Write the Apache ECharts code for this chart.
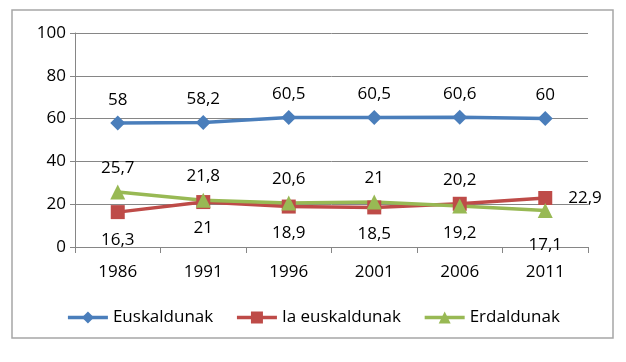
<!DOCTYPE html>
<html><head><meta charset="utf-8">
<script src="https://cdn.jsdelivr.net/npm/echarts@6/dist/echarts.min.js"></script>
<style>html,body{margin:0;padding:0;background:#fff}#c{width:626px;height:362px}</style>
</head><body><div id="c"></div>
<script>
var categories = ['1986','1991','1996','2001','2006','2011'];
var euskaldunak = [58, 58.2, 60.5, 60.5, 60.6, 60];
var iaEuskaldunak = [16.3, 21, 18.9, 18.5, 20.2, 22.9];
var erdaldunak = [25.7, 21.8, 20.6, 21, 19.2, 17.1];
var yTicks = [0, 20, 40, 60, 80, 100];

var FONT = 'Open Sans';
var iaPos = ['bottom','bottom','bottom','bottom','top','right'];
var erPos = ['top','top','top','top','bottom','bottom'];
function fmt(v){ return String(v).replace('.', ','); }
function items(arr, pos, extra){
  return arr.map(function(v,i){
    var p = pos[i];
    var d = p==='top'?8:(p==='bottom'?11:16);
    var lab = {position:p, distance: d + (extra[i]||0)};
    return {value:v, label:lab};
  });
}
var chart = echarts.init(document.getElementById('c'));
var labelBase = {show:true, color:'#000', fontFamily:FONT, fontSize:17,
  formatter:function(p){return fmt(p.value);}};
chart.setOption({
  animation:false,
  graphic:[{type:'rect', shape:{x:12,y:10,width:601,height:328},
    style:{fill:'none', stroke:'#a6a6a6', lineWidth:1.5}}],
  grid:{left:75,right:38,top:33,bottom:115},
  legend:{bottom:31, left:'center', itemWidth:40, itemHeight:15, itemGap:22,
    lineStyle:{width:3.5},
    textStyle:{fontFamily:FONT,fontSize:17,color:'#000'},
    data:['Euskaldunak','Ia euskaldunak','Erdaldunak']},
  xAxis:{type:'category', data:categories, boundaryGap:true,
    axisLine:{lineStyle:{color:'#868686',width:1}},
    axisTick:{show:true,length:6,lineStyle:{color:'#868686'}},
    axisLabel:{color:'#000',fontFamily:FONT,fontSize:17,margin:17}},
  yAxis:{type:'value', min:0, max:100, interval:20,
    axisLine:{show:true,lineStyle:{color:'#868686',width:1}},
    axisTick:{show:true,length:5,lineStyle:{color:'#868686'}},
    splitLine:{lineStyle:{color:'#868686',width:1}},
    axisLabel:{color:'#000',fontFamily:FONT,fontSize:17,margin:9,
      formatter:function(v){return yTicks.indexOf(v)>=0?String(v):'';}}},
  series:[
    {name:'Euskaldunak', type:'line', data:euskaldunak, symbol:'diamond', symbolSize:15,
      lineStyle:{color:'#4a7ebb',width:3.5}, itemStyle:{color:'#4a7ebb'},
      label:Object.assign({},labelBase,{position:'top',distance:7})},
    {name:'Ia euskaldunak', type:'line', data:items(iaEuskaldunak, iaPos, [2,0,0,0,0,0]), symbol:'rect', symbolSize:14,
      lineStyle:{color:'#be4b48',width:3.5}, itemStyle:{color:'#be4b48'},
      label:labelBase},
    {name:'Erdaldunak', type:'line', data:items(erdaldunak, erPos, [0,0,0,0,0,8]), symbol:'triangle', symbolSize:15,
      lineStyle:{color:'#98b954',width:3.5}, itemStyle:{color:'#98b954'},
      label:labelBase}
  ]
});
</script></body></html>
